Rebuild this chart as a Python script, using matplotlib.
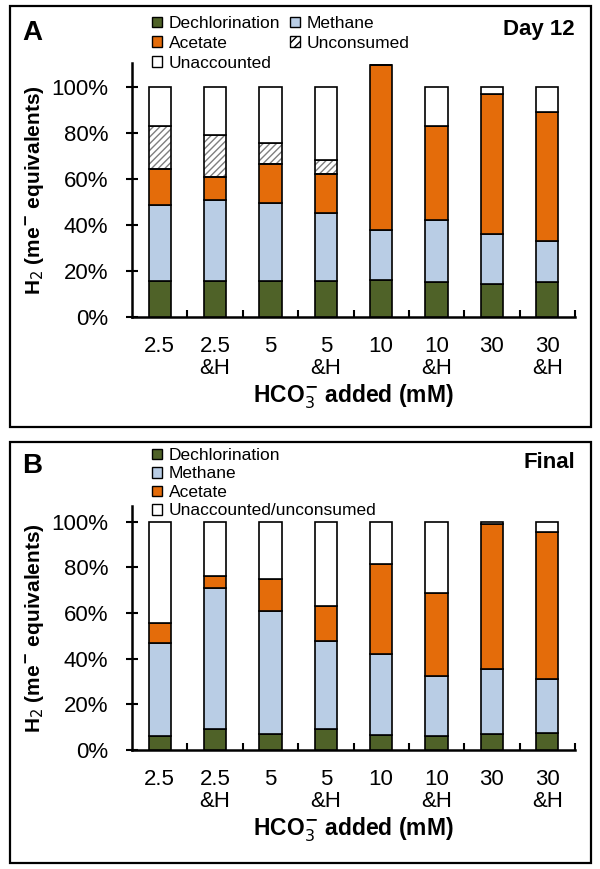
import numpy as np
import matplotlib
matplotlib.use("Agg")
import matplotlib.pyplot as plt
from matplotlib.patches import Rectangle, Patch

plt.rcParams["font.family"] = ["Liberation Sans", "DejaVu Sans"]

cats_top = ["2.5", "2.5", "5", "5", "10", "10", "30", "30"]
cats_bot = ["", "&H", "", "&H", "", "&H", "", "&H"]

# Day 12 (percent of H2 me- equivalents)
a_dechl = [15.5, 15.5, 15.8, 15.8, 16.1, 15.2, 14.3, 15.2]
a_meth = [33.3, 35.4, 33.9, 29.3, 21.6, 26.8, 21.9, 17.7]
a_acet = [15.4, 10.0, 17.0, 17.1, 71.7, 40.9, 60.9, 56.4]
a_uncons = [18.7, 18.4, 9.1, 6.2, 0.0, 0.0, 0.0, 0.0]
a_unacc = [17.1, 20.7, 24.2, 31.6, 0.0, 17.1, 2.9, 10.7]

# Final
b_dechl = [6.3, 9.2, 6.9, 9.1, 6.6, 6.3, 6.9, 7.3]
b_meth = [40.6, 61.6, 54.1, 38.8, 35.6, 26.3, 28.6, 23.8]
b_acet = [8.6, 5.4, 13.9, 15.2, 39.4, 36.2, 63.6, 64.2]
b_unacc = [44.5, 23.8, 25.1, 36.9, 18.4, 31.2, 0.9, 4.7]

C_DECHL = "#4f6228"
C_METH = "#b9cde5"
C_ACET = "#e46c0a"
C_UNACC = "#ffffff"

TICK_FS = 16
XLAB_FS = 16.5
YLAB_FS = 15
LEG_FS = 12.5

fig = plt.figure(figsize=(6.0, 8.69), dpi=100)

# panel frames
for (y0, y1) in [(6, 427), (442, 863)]:
    fig.patches.append(Rectangle((10 / 600, 1 - y1 / 869), 581 / 600, (y1 - y0) / 869,
                                 transform=fig.transFigure, fill=False,
                                 edgecolor="black", lw=1.6))


def draw_panel(ax, series, ymax):
    x = np.arange(len(cats_top))
    w = 0.4
    bottom = np.zeros(len(x))
    for vals, color, hatch in series:
        vals = np.array(vals)
        if hatch:
            ax.bar(x, vals, w, bottom=bottom, color="white", edgecolor="#7f7f7f",
                   hatch=hatch, lw=0, zorder=2)
            ax.bar(x, vals, w, bottom=bottom, color="none", edgecolor="black",
                   lw=1.2, zorder=3)
        else:
            ax.bar(x, vals, w, bottom=bottom, color=color, edgecolor="black",
                   lw=1.2, zorder=3)
        bottom = bottom + vals
    ax.set_xlim(-0.5, len(x) - 0.5)
    ax.set_ylim(0, ymax)
    ax.set_yticks(np.arange(0, 101, 20))
    ax.set_yticklabels([f"{v}%" for v in range(0, 101, 20)], fontsize=TICK_FS)
    ax.set_xticks(np.arange(0.5, len(x) - 0.4, 1.0))
    ax.set_xticklabels([])
    ax.set_xticks(x, minor=True)
    ax.set_xticklabels([f"{t}\n{b}" for t, b in zip(cats_top, cats_bot)],
                       minor=True, fontsize=TICK_FS, va="top", linespacing=1.05)
    ax.tick_params(axis="x", which="major", direction="in", length=5, width=1.5)
    ax.tick_params(axis="x", which="minor", length=0, pad=14)
    ax.tick_params(axis="y", direction="inout", length=8, width=1.5, pad=13)
    for s in ["top", "right"]:
        ax.spines[s].set_visible(False)
    for s in ["left", "bottom"]:
        ax.spines[s].set_linewidth(1.8)
    ax.set_xlabel(r"HCO$_3^{\mathbf{-}}$ added (mM)", fontsize=XLAB_FS,
                  fontweight="bold", labelpad=2)
    ax.set_ylabel(r"H$_2$ (me$^{\mathbf{-}}$ equivalents)", fontsize=YLAB_FS,
                  fontweight="bold", labelpad=4)


leg_kw = dict(loc="upper left", frameon=False, fontsize=LEG_FS, handlelength=0.55,
              handleheight=0.55, handletextpad=0.4,
              borderaxespad=0, borderpad=0)

# Panel A
axA = fig.add_axes([132 / 600, 1 - 317 / 869, 443 / 600, 254 / 869])
draw_panel(axA, [(a_dechl, C_DECHL, None), (a_meth, C_METH, None),
                 (a_acet, C_ACET, None), (a_uncons, None, "/////"),
                 (a_unacc, C_UNACC, None)], 110.4)
hA = [Patch(facecolor=C_DECHL, edgecolor="black", label="Dechlorination"),
      Patch(facecolor=C_ACET, edgecolor="black", label="Acetate"),
      Patch(facecolor=C_UNACC, edgecolor="black", label="Unaccounted"),
      Patch(facecolor=C_METH, edgecolor="black", label="Methane"),
      Patch(facecolor="white", edgecolor="black", hatch="////", label="Unconsumed")]
fig.legend(handles=hA, bbox_to_anchor=(152 / 600, 1 - 16 / 869), ncol=2,
           columnspacing=0.6, labelspacing=0.28, **leg_kw)
fig.text(22 / 600, 1 - 33 / 869, "A", fontsize=20, fontweight="bold", va="center")
fig.text(575 / 600, 1 - 30 / 869, "Day 12", fontsize=16, fontweight="bold",
         va="center", ha="right")

# Panel B
axB = fig.add_axes([132 / 600, 1 - 750 / 869, 443 / 600, 244 / 869])
draw_panel(axB, [(b_dechl, C_DECHL, None), (b_meth, C_METH, None),
                 (b_acet, C_ACET, None), (b_unacc, C_UNACC, None)], 106.9)
hB = [Patch(facecolor=C_DECHL, edgecolor="black", label="Dechlorination"),
      Patch(facecolor=C_METH, edgecolor="black", label="Methane"),
      Patch(facecolor=C_ACET, edgecolor="black", label="Acetate"),
      Patch(facecolor=C_UNACC, edgecolor="black", label="Unaccounted/unconsumed")]
fig.legend(handles=hB, bbox_to_anchor=(152 / 600, 1 - 448 / 869), ncol=1,
           labelspacing=0.2, **leg_kw)
fig.text(22 / 600, 1 - 466 / 869, "B", fontsize=20, fontweight="bold", va="center")
fig.text(575 / 600, 1 - 463 / 869, "Final", fontsize=16, fontweight="bold",
         va="center", ha="right")

fig.savefig("out.png", dpi=100)
